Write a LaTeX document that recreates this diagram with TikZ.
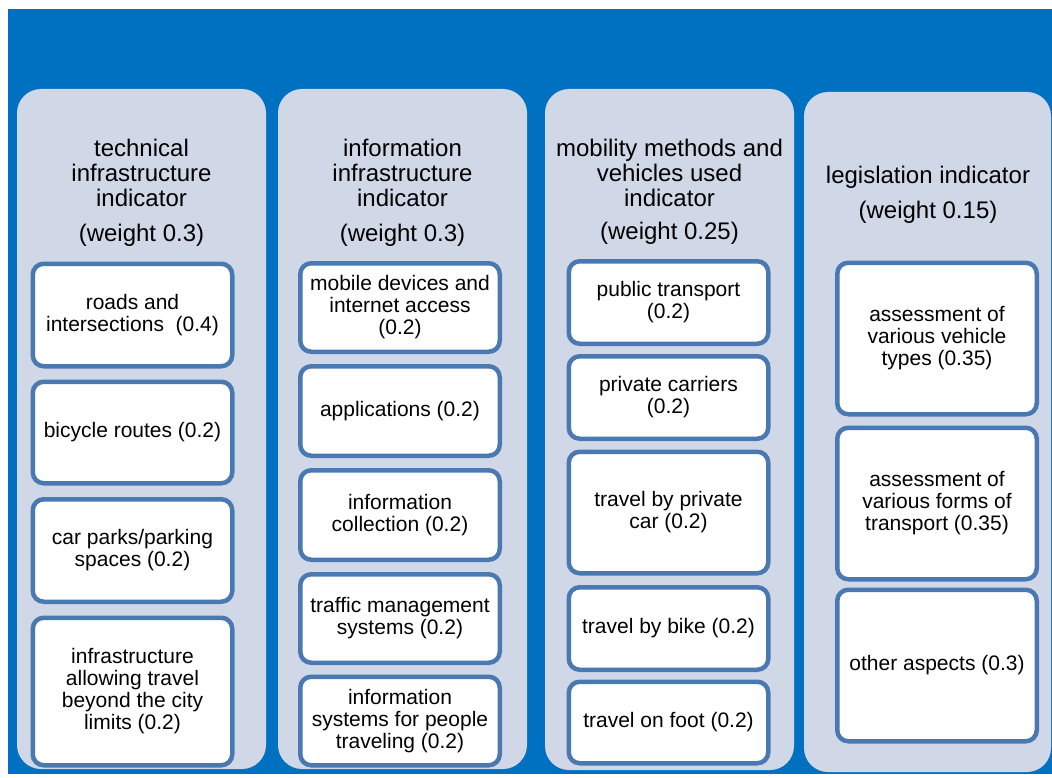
\documentclass[tikz,border=0pt]{standalone}
\usepackage{fontspec}
\setmainfont{Liberation Sans}
\definecolor{bgblue}{HTML}{0070C0}
\definecolor{panelgrey}{HTML}{D0D8E8}
\definecolor{boxline}{HTML}{4A78B0}
\tikzset{
  panel/.style={fill=panelgrey, rounded corners=24pt},
  item/.style={
    draw=boxline, line width=4.5pt, fill=white, rounded corners=11pt,
    align=center, inner sep=0pt, minimum width=199.5pt,
    font=\fontsize{21}{22}\selectfont,
  },
  head/.style={align=center, inner sep=0pt, font=\fontsize{24}{25}\selectfont},
}

\begin{document}
\begin{tikzpicture}[x=1pt, y=-1pt]

        \useasboundingbox[fill=white] (0,0) rectangle (1052,778);
        \fill[bgblue] (8,9) rectangle (1052,774);

        % technical infrastructure
        \fill[panel] (17,89) rectangle (266,769);
        \node[head] (p1h) at (141.5,173) {technical\\infrastructure\\indicator};
        \node[head, anchor=base] (p1w) at (141.5,241) {(weight 0.3)};
        \node[item, minimum height=102.5pt] (p1a) at (132.5,315) {roads and\\intersections~ (0.4)};
        \node[item, minimum height=101.5pt] (p1b) at (132.5,432.5) {bicycle routes (0.2)};
        \node[item, minimum height=102.5pt] (p1c) at (132.5,550.5) {car parks/parking\\spaces (0.2)};
        \node[item, minimum height=147.5pt] (p1d) at (132.5,691.5) {infrastructure\\allowing travel\\beyond the city\\limits (0.2)};

        % information infrastructure
        \fill[panel] (278,89) rectangle (527,769);
        \node[head] (p2h) at (402.5,173) {information\\infrastructure\\indicator};
        \node[head, anchor=base] (p2w) at (402.5,241) {(weight 0.3)};
        \node[item, minimum height=88.5pt] (p2a) at (400,307.5) {mobile devices and\\internet access\\(0.2)};
        \node[item, minimum height=89.5pt] (p2b) at (400,411) {applications (0.2)};
        \node[item, minimum height=89.5pt] (p2c) at (400,515) {information\\collection (0.2)};
        \node[item, minimum height=88.5pt] (p2d) at (400,618.5) {traffic management\\systems (0.2)};
        \node[item, minimum height=88.5pt] (p2e) at (400,721) {information\\systems for people\\traveling (0.2)};

        % mobility methods
        \fill[panel] (545,89) rectangle (794,770);
        \node[head] (p3h) at (669.5,173) {mobility methods and\\vehicles used\\indicator};
        \node[head, anchor=base] (p3w) at (669.5,240) {(weight 0.25)};
        \node[item, minimum height=82.5pt] (p3a) at (668.5,302.5) {public transport\\(0.2)};
        \node[item, minimum height=82.5pt] (p3b) at (668.5,397.5) {private carriers\\(0.2)};
        \node[item, minimum height=121.5pt] (p3c) at (668.5,512.5) {travel by private\\car (0.2)};
        \node[item, minimum height=82.5pt] (p3d) at (668.5,628.5) {travel by bike (0.2)};
        \node[item, minimum height=81.5pt] (p3e) at (668.5,722.5) {travel on foot (0.2)};

        % legislation
        \fill[panel] (804,92) rectangle (1051,772);
        \node[head] (p4h) at (928,177.5) {legislation indicator};
        \node[head, anchor=base] (p4w) at (928,218.5) {(weight 0.15)};
        \node[item, minimum height=151.5pt] (p4a) at (937,338.5) {assessment of\\various vehicle\\types (0.35)};
        \node[item, minimum height=151.5pt] (p4b) at (937,503.5) {assessment of\\various forms of\\transport (0.35)};
        \node[item, minimum height=151.5pt] (p4c) at (937,665.5) {other aspects (0.3)};

\end{tikzpicture}
\end{document}
